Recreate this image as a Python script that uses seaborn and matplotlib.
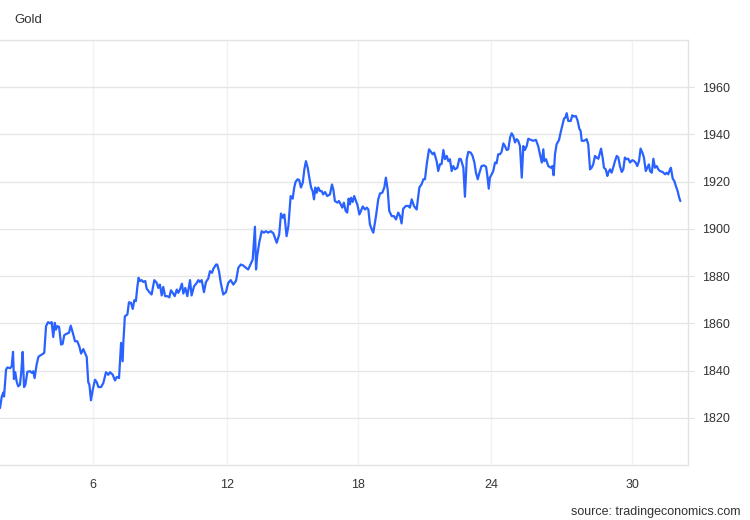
import pandas as pd
import matplotlib
matplotlib.use("Agg")
import matplotlib.pyplot as plt
import seaborn as sns

# Gold price, one month (x = day of month, fractional)
days = [
    1.86, 1.94, 2.01, 2.04, 2.13, 2.19, 2.31, 2.38, 2.44, 2.48, 2.54, 2.60, 2.67, 2.75, 2.81, 2.87,
    2.93, 2.99, 3.08, 3.20, 3.28, 3.34, 3.40, 3.49, 3.57, 3.64, 3.76, 3.83, 3.91, 4.00, 4.09, 4.16,
    4.23, 4.30, 4.35, 4.41, 4.49, 4.58, 4.65, 4.72, 4.83, 4.93, 5.01, 5.10, 5.20, 5.30, 5.39, 5.47,
    5.57, 5.64, 5.72, 5.79, 5.84, 5.91, 5.99, 6.09, 6.17, 6.24, 6.36, 6.46, 6.58, 6.68, 6.76, 6.88,
    6.98, 7.06, 7.16, 7.25, 7.32, 7.35, 7.42, 7.53, 7.60, 7.69, 7.77, 7.84, 7.91, 7.97, 8.03, 8.09,
    8.17, 8.24, 8.33, 8.39, 8.51, 8.61, 8.73, 8.84, 8.91, 8.98, 9.06, 9.13, 9.21, 9.31, 9.40, 9.47,
    9.55, 9.64, 9.73, 9.80, 9.87, 9.96, 10.02, 10.11, 10.20, 10.32, 10.39, 10.50, 10.62, 10.69,
    10.76, 10.84, 10.94, 11.03, 11.13, 11.21, 11.30, 11.36, 11.48, 11.53, 11.61, 11.69, 11.80,
    11.92, 12.02, 12.13, 12.25, 12.37, 12.47, 12.58, 12.69, 12.81, 12.91, 12.99, 13.11, 13.21,
    13.26, 13.31, 13.40, 13.51, 13.61, 13.70, 13.80, 13.92, 14.03, 14.18, 14.29, 14.37, 14.45,
    14.52, 14.62, 14.70, 14.80, 14.89, 14.96, 15.02, 15.11, 15.18, 15.26, 15.34, 15.41, 15.48,
    15.56, 15.63, 15.71, 15.78, 15.84, 15.90, 15.96, 16.03, 16.11, 16.18, 16.25, 16.33, 16.43,
    16.55, 16.64, 16.70, 16.77, 16.88, 16.95, 17.03, 17.10, 17.17, 17.25, 17.32, 17.38, 17.44,
    17.49, 17.56, 17.63, 17.71, 17.78, 17.86, 17.93, 18.01, 18.11, 18.19, 18.26, 18.33, 18.41,
    18.48, 18.60, 18.70, 18.78, 18.88, 18.97, 19.04, 19.12, 19.19, 19.30, 19.40, 19.49, 19.59,
    19.67, 19.74, 19.81, 19.93, 20.04, 20.11, 20.19, 20.29, 20.41, 20.53, 20.63, 20.71, 20.78,
    20.86, 20.96, 21.05, 21.12, 21.19, 21.30, 21.37, 21.45, 21.52, 21.60, 21.67, 21.75, 21.82,
    21.89, 21.97, 22.04, 22.12, 22.22, 22.31, 22.38, 22.49, 22.56, 22.64, 22.71, 22.82, 22.90,
    22.98, 23.05, 23.13, 23.20, 23.30, 23.41, 23.50, 23.55, 23.62, 23.67, 23.75, 23.82, 23.90,
    23.97, 24.04, 24.12, 24.19, 24.27, 24.34, 24.42, 24.49, 24.57, 24.64, 24.71, 24.79, 24.86,
    24.93, 25.01, 25.09, 25.16, 25.23, 25.31, 25.38, 25.49, 25.60, 25.72, 25.82, 25.90, 25.98,
    26.05, 26.09, 26.17, 26.27, 26.38, 26.45, 26.51, 26.57, 26.64, 26.75, 26.82, 26.89, 26.97,
    27.03, 27.09, 27.16, 27.27, 27.34, 27.41, 27.50, 27.58, 27.65, 27.71, 27.76, 27.86, 27.98,
    28.05, 28.13, 28.20, 28.27, 28.35, 28.42, 28.50, 28.57, 28.62, 28.69, 28.75, 28.83, 28.90,
    28.94, 29.02, 29.09, 29.16, 29.24, 29.32, 29.39, 29.46, 29.54, 29.61, 29.68, 29.76, 29.83,
    29.91, 30.01, 30.09, 30.16, 30.23, 30.31, 30.38, 30.46, 30.53, 30.61, 30.68, 30.75, 30.80,
    30.88, 30.95, 31.02, 31.10, 31.17, 31.24, 31.36, 31.47, 31.54, 31.61, 31.69, 31.73, 31.81,
    31.88, 31.96, 32.03, 32.10, 32.15,
]

price = [
    1824.1, 1829.0, 1830.7, 1829.0, 1840.4, 1841.3, 1841.0, 1841.8, 1847.9, 1836.4, 1839.3, 1835.4,
    1833.3, 1834.0, 1839.7, 1847.9, 1833.0, 1834.0, 1839.5, 1839.7, 1839.0, 1839.7, 1836.8, 1842.5,
    1845.8, 1846.3, 1847.0, 1847.5, 1858.8, 1860.5, 1860.0, 1860.5, 1854.2, 1860.2, 1857.3, 1858.8,
    1858.5, 1851.0, 1851.3, 1855.0, 1855.6, 1856.0, 1859.0, 1856.0, 1852.4, 1852.4, 1850.3, 1847.2,
    1849.1, 1847.5, 1845.8, 1835.0, 1834.0, 1827.4, 1831.9, 1836.1, 1835.0, 1833.0, 1833.0, 1834.7,
    1839.3, 1838.2, 1839.3, 1838.2, 1835.8, 1837.3, 1836.8, 1851.7, 1843.9, 1851.7, 1863.0, 1863.7,
    1868.9, 1868.7, 1866.1, 1869.8, 1869.4, 1875.0, 1879.3, 1877.9, 1878.3, 1877.5, 1877.9, 1874.7,
    1873.2, 1872.2, 1878.3, 1877.1, 1875.0, 1876.4, 1871.8, 1875.4, 1871.5, 1871.5, 1871.0, 1874.0,
    1872.9, 1871.5, 1874.3, 1872.9, 1874.3, 1876.8, 1872.6, 1875.0, 1871.5, 1878.3, 1871.8, 1875.7,
    1877.1, 1878.3, 1877.5, 1878.3, 1873.2, 1877.5, 1878.9, 1882.1, 1881.4, 1883.1, 1884.9, 1884.9,
    1882.1, 1877.1, 1872.2, 1873.2, 1877.1, 1878.3, 1876.4, 1878.1, 1883.5, 1884.9, 1884.5, 1883.5,
    1882.8, 1884.5, 1887.0, 1900.9, 1882.8, 1888.4, 1894.1, 1899.0, 1898.4, 1899.0, 1898.4, 1899.0,
    1898.1, 1894.1, 1897.6, 1906.5, 1904.7, 1906.1, 1896.9, 1901.2, 1913.9, 1912.8, 1917.5, 1919.9,
    1921.0, 1920.7, 1917.5, 1919.6, 1925.2, 1928.7, 1925.9, 1921.7, 1917.5, 1916.0, 1912.5, 1917.5,
    1915.3, 1917.5, 1916.0, 1916.0, 1914.6, 1915.6, 1913.9, 1914.6, 1918.8, 1916.7, 1911.8, 1911.1,
    1911.8, 1910.4, 1909.0, 1911.1, 1907.6, 1906.9, 1912.8, 1910.4, 1913.2, 1911.4, 1913.9, 1911.8,
    1909.9, 1906.1, 1907.6, 1909.5, 1908.2, 1909.0, 1908.2, 1901.9, 1899.8, 1898.4, 1905.4, 1912.5,
    1915.0, 1915.3, 1917.5, 1921.7, 1916.7, 1907.6, 1905.4, 1905.4, 1904.0, 1906.9, 1905.4, 1902.3,
    1908.5, 1909.7, 1909.7, 1909.0, 1912.5, 1909.7, 1908.2, 1917.5, 1918.9, 1921.0, 1921.0, 1927.4,
    1933.7, 1932.6, 1931.6, 1932.3, 1928.7, 1924.5, 1927.4, 1927.4, 1933.4, 1929.5, 1930.9, 1928.7,
    1929.5, 1924.5, 1926.6, 1925.2, 1925.9, 1929.7, 1929.5, 1925.9, 1913.6, 1929.5, 1932.6, 1932.3,
    1930.9, 1928.1, 1923.8, 1921.0, 1923.6, 1926.6, 1926.9, 1926.3, 1923.1, 1917.0, 1921.7, 1923.1,
    1924.5, 1928.1, 1927.8, 1931.6, 1931.6, 1932.6, 1936.2, 1935.1, 1933.4, 1933.7, 1938.7, 1940.5,
    1939.4, 1936.6, 1938.0, 1937.3, 1935.1, 1921.7, 1935.1, 1933.4, 1935.1, 1938.2, 1937.7, 1937.3,
    1937.7, 1935.1, 1931.6, 1928.1, 1933.7, 1928.7, 1929.5, 1926.6, 1925.9, 1926.6, 1922.7, 1931.6,
    1935.8, 1937.7, 1940.8, 1943.6, 1946.7, 1947.1, 1949.0, 1945.7, 1945.7, 1948.1, 1947.6, 1947.8,
    1945.7, 1942.5, 1941.5, 1937.3, 1937.3, 1938.0, 1935.8, 1925.2, 1925.9, 1927.3, 1930.9, 1930.2,
    1929.7, 1932.3, 1934.0, 1930.2, 1925.9, 1925.2, 1922.4, 1923.8, 1925.2, 1923.8, 1925.9, 1928.7,
    1930.9, 1930.2, 1926.6, 1924.1, 1925.2, 1930.2, 1929.5, 1929.7, 1928.1, 1929.1, 1928.7, 1928.1,
    1926.6, 1928.7, 1934.0, 1932.3, 1930.2, 1924.5, 1925.9, 1927.3, 1924.5, 1923.8, 1929.7, 1925.9,
    1926.6, 1925.2, 1924.5, 1924.1, 1923.1, 1923.8, 1923.1, 1925.2, 1925.9, 1921.3, 1920.3, 1917.9,
    1916.0, 1913.2, 1911.8,
]

# day gridlines are not evenly spaced on the source chart
x_ticks = [6, 11.97, 17.8, 23.72, 30]
x_labels = ["6", "12", "18", "24", "30"]
y_ticks = [1820, 1840, 1860, 1880, 1900, 1920, 1940, 1960]

df = pd.DataFrame({"day": days, "price": price})

sns.set_style("white")
plt.rcParams["font.family"] = ["Liberation Sans", "DejaVu Sans"]

fig = plt.figure(figsize=(7.5, 5.2), dpi=100)
ax = fig.add_axes([0.0, 0.1058, 0.9173, 0.8173])

sns.lineplot(data=df, x="day", y="price", ax=ax, color="#2962ff", linewidth=1.6)

ax.set_xlim(1.86, 32.49)
ax.set_ylim(1800, 1980)
ax.set_xticks(x_ticks)
ax.set_xticklabels(x_labels)
ax.set_yticks(y_ticks)
ax.yaxis.tick_right()
ax.set_xlabel("")
ax.set_ylabel("")

# grid: light grey horizontal, faint bluish vertical
ax.grid(axis="y", color="#e6e6e6", linewidth=1)
ax.grid(axis="x", color="#eef1f5", linewidth=1)
ax.set_axisbelow(True)

ax.spines["left"].set_visible(False)
for side in ["right", "bottom", "top"]:
    ax.spines[side].set_color("#e3e3e3")
    ax.spines[side].set_linewidth(1)

ax.tick_params(axis="y", length=4, color="#e3e3e3", labelcolor="#333333",
               labelsize=9, pad=6)
ax.tick_params(axis="x", length=0, labelcolor="#333333", labelsize=9, pad=10)

fig.text(0.0187, 0.9615, "Gold", fontsize=9.5, color="#333333", va="center")
fig.text(0.987, 0.015, "source: tradingeconomics.com", fontsize=9,
         color="#333333", ha="right", va="center")

fig.savefig("out.png", dpi=100)
